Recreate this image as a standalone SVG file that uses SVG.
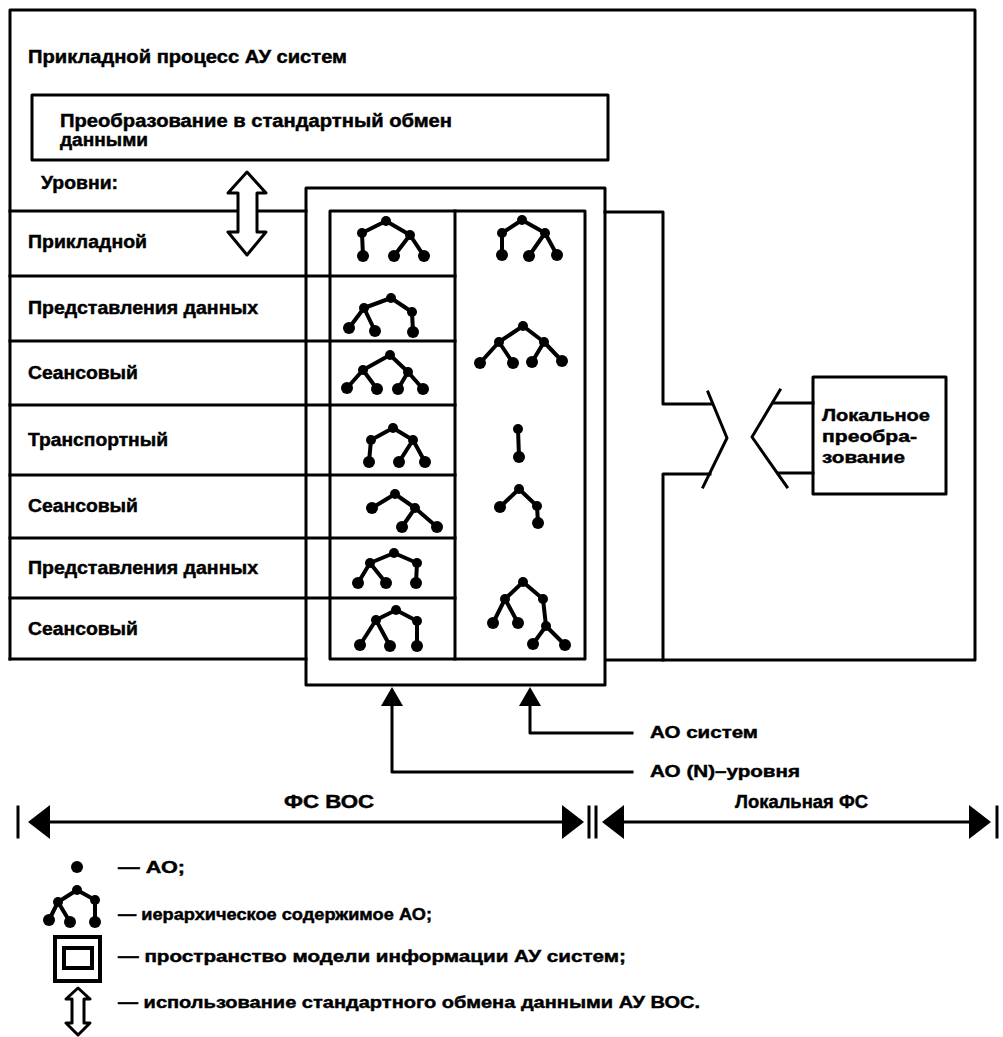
<svg xmlns="http://www.w3.org/2000/svg" width="1003" height="1037" viewBox="0 0 1003 1037">
<style>
.ln{fill:none;stroke:#000;stroke-width:3;stroke-linejoin:round;stroke-linecap:square}
.t{font-family:"Liberation Sans",Arial,sans-serif;font-weight:bold;font-size:18px;fill:#000;stroke:#000;stroke-width:0.45}
.s{font-size:17px}
.tr path{fill:none;stroke:#000;stroke-width:4;stroke-linecap:round;stroke-linejoin:round}
.tr circle{fill:#000}
.ar{fill:#000;stroke:none}
</style>
<rect width="1003" height="1037" fill="#fff"/>

<g id="frame">
  <path class="ln" d="M10,659 V10 H975 V660 H606"/>
  <path class="ln" d="M10,659 H306"/>
  <text class="t" x="28" y="63" textLength="319" lengthAdjust="spacingAndGlyphs">Прикладной процесс АУ систем</text>
</g>

<g id="transform-box">
  <rect class="ln" x="32" y="95" width="576" height="65"/>
  <text class="t" x="60" y="127" textLength="392" lengthAdjust="spacingAndGlyphs">Преобразование в стандартный обмен</text>
  <text class="t" x="60" y="146" textLength="88" lengthAdjust="spacingAndGlyphs">данными</text>
</g>

<g id="levels">
  <text class="t" x="41" y="189" textLength="77" lengthAdjust="spacingAndGlyphs">Уровни:</text>
  <path class="ln" d="M10,211 H306 M10,276 H455 M10,341 H455 M10,405 H455 M10,475 H455 M10,538 H455 M10,598 H455"/>
  <text class="t" x="28" y="248" textLength="119" lengthAdjust="spacingAndGlyphs">Прикладной</text>
  <text class="t" x="28" y="314" textLength="230" lengthAdjust="spacingAndGlyphs">Представления данных</text>
  <text class="t" x="28" y="379" textLength="110" lengthAdjust="spacingAndGlyphs">Сеансовый</text>
  <text class="t" x="28" y="446" textLength="140" lengthAdjust="spacingAndGlyphs">Транспортный</text>
  <text class="t" x="28" y="512" textLength="110" lengthAdjust="spacingAndGlyphs">Сеансовый</text>
  <text class="t" x="28" y="574" textLength="230" lengthAdjust="spacingAndGlyphs">Представления данных</text>
  <text class="t" x="28" y="635" textLength="110" lengthAdjust="spacingAndGlyphs">Сеансовый</text>
</g>

<g id="model-space">
  <rect class="ln" x="306" y="188" width="299" height="497"/>
  <rect class="ln" x="330" y="211" width="255" height="448"/>
  <path class="ln" d="M455,211 V659"/>
</g>

<g id="trees" class="tr">
  <g id="tree-1">
    <path d="M362,233 L386,221 L410,235 M362,233 L363,256 M410,235 L394,256 M410,235 L424,256"/>
    <circle cx="386" cy="221" r="5"/><circle cx="362" cy="233" r="5"/><circle cx="410" cy="235" r="5"/>
    <circle cx="363" cy="256" r="6"/><circle cx="394" cy="256" r="6"/><circle cx="424" cy="256" r="6"/>
  </g>
  <g id="tree-1r">
    <path d="M502,233 L522,220 L545,233 M502,233 L502,255 M545,233 L529,256 M545,233 L557,255"/>
    <circle cx="522" cy="220" r="5"/><circle cx="502" cy="233" r="5"/><circle cx="545" cy="233" r="5"/>
    <circle cx="502" cy="255" r="6"/><circle cx="529" cy="256" r="6"/><circle cx="557" cy="255" r="6"/>
  </g>
  <g id="tree-2">
    <path d="M364,308 L391,298 L412,312 L413,332 M364,308 L349,328 M364,308 L375,331"/>
    <circle cx="391" cy="298" r="5"/><circle cx="364" cy="308" r="5"/><circle cx="412" cy="312" r="5"/>
    <circle cx="349" cy="328" r="6"/><circle cx="375" cy="331" r="6"/><circle cx="413" cy="332" r="6"/>
  </g>
  <g id="tree-3">
    <path d="M363,370 L390,355 L408,372 M363,370 L347,388 M363,370 L377,389 M408,372 L398,389 M408,372 L423,389"/>
    <circle cx="390" cy="355" r="5"/><circle cx="363" cy="370" r="5"/><circle cx="408" cy="372" r="5"/>
    <circle cx="347" cy="388" r="6"/><circle cx="377" cy="389" r="6"/><circle cx="398" cy="389" r="6"/><circle cx="423" cy="389" r="6"/>
  </g>
  <g id="tree-23r">
    <path d="M499,342 L523,326 L544,342 M499,342 L480,363 M499,342 L513,363 M544,342 L532,362 M544,342 L562,361"/>
    <circle cx="523" cy="326" r="5"/><circle cx="499" cy="342" r="5"/><circle cx="544" cy="342" r="5"/>
    <circle cx="480" cy="363" r="6"/><circle cx="513" cy="363" r="6"/><circle cx="532" cy="362" r="6"/><circle cx="562" cy="361" r="6"/>
  </g>
  <g id="tree-4">
    <path d="M371,440 L393,428 L413,440 M371,440 L369,462 M413,440 L399,462 M413,440 L425,462"/>
    <circle cx="393" cy="428" r="5"/><circle cx="371" cy="440" r="5"/><circle cx="413" cy="440" r="5"/>
    <circle cx="369" cy="462" r="6"/><circle cx="399" cy="462" r="6"/><circle cx="425" cy="462" r="6"/>
  </g>
  <g id="tree-4r">
    <path d="M518,429 L519,457"/>
    <circle cx="518" cy="429" r="5"/><circle cx="519" cy="457" r="6"/>
  </g>
  <g id="tree-5">
    <path d="M372,508 L395,494 L415,508 M415,508 L402,527 M415,508 L437,527"/>
    <circle cx="395" cy="494" r="5"/><circle cx="415" cy="508" r="5"/>
    <circle cx="372" cy="508" r="6"/><circle cx="402" cy="527" r="6"/><circle cx="437" cy="527" r="6"/>
  </g>
  <g id="tree-5r">
    <path d="M500,507 L519,489 L537,506 L538,523"/>
    <circle cx="519" cy="489" r="5"/><circle cx="537" cy="506" r="5"/>
    <circle cx="500" cy="507" r="6"/><circle cx="538" cy="523" r="6"/>
  </g>
  <g id="tree-6">
    <path d="M370,563 L394,553 L417,563 L416,583 M370,563 L358,583 M370,563 L386,583"/>
    <circle cx="394" cy="553" r="5"/><circle cx="370" cy="563" r="5"/><circle cx="417" cy="563" r="5"/>
    <circle cx="358" cy="583" r="6"/><circle cx="386" cy="583" r="6"/><circle cx="416" cy="583" r="6"/>
  </g>
  <g id="tree-7">
    <path d="M376,620 L396,610 L417,621 L417,646 M376,620 L360,645 M376,620 L390,646"/>
    <circle cx="396" cy="610" r="5"/><circle cx="376" cy="620" r="5"/><circle cx="417" cy="621" r="5"/>
    <circle cx="360" cy="645" r="6"/><circle cx="390" cy="646" r="6"/><circle cx="417" cy="646" r="6"/>
  </g>
  <g id="tree-67r">
    <path d="M505,599 L523,582 L543,599 L546,626 M505,599 L493,623 M505,599 L518,623 M546,626 L533,644 M546,626 L565,645"/>
    <circle cx="523" cy="582" r="5"/><circle cx="505" cy="599" r="5"/><circle cx="543" cy="599" r="5"/><circle cx="546" cy="626" r="5"/>
    <circle cx="493" cy="623" r="6"/><circle cx="518" cy="623" r="6"/><circle cx="533" cy="644" r="6"/><circle cx="565" cy="645" r="6"/>
  </g>
</g>

<g id="local-transform">
  <rect class="ln" x="813" y="377" width="133" height="117"/>
  <text class="t s" x="822" y="421" textLength="108" lengthAdjust="spacingAndGlyphs">Локальное</text>
  <text class="t s" x="822" y="442" textLength="95" lengthAdjust="spacingAndGlyphs">преобра-</text>
  <text class="t s" x="822" y="463" textLength="83" lengthAdjust="spacingAndGlyphs">зование</text>
</g>

<g id="connectors">
  <path class="ln" d="M605,212 H663 V404 H712"/>
  <path class="ln" d="M663,660 V474 H710"/>
  <polyline class="ln" points="708,392 727,438 703,487"/>
  <polyline class="ln" points="780,390 752,437 787,487"/>
  <path class="ln" d="M773,403 H813 M778,473 H813"/>
  <polygon class="ln" style="fill:#fff" points="247,172 266,193 257,193 257,232 266,232 247,255 228,232 238,232 238,193 228,193"/>
  <polygon class="ar" points="392,687 403,706 381,706"/>
  <path class="ln" d="M392,704 V772 H632"/>
  <polygon class="ar" points="530,687 541,706 519,706"/>
  <path class="ln" d="M530,704 V733 H632"/>
  <text class="t s" x="650" y="738" textLength="108" lengthAdjust="spacingAndGlyphs">АО систем</text>
  <text class="t s" x="650" y="777" textLength="150" lengthAdjust="spacingAndGlyphs">АО (N)–уровня</text>
</g>

<g id="scale">
  <path class="ln" d="M18,807 V837 M589,807 V837 M596,807 V837 M997,807 V837"/>
  <path class="ln" d="M45,822 H568 M618,822 H975"/>
  <polygon class="ar" points="28,822 50,805 50,839"/>
  <polygon class="ar" points="584,822 562,805 562,839"/>
  <polygon class="ar" points="602,822 624,805 624,839"/>
  <polygon class="ar" points="991,822 969,805 969,839"/>
  <text class="t" x="284" y="808" textLength="90" lengthAdjust="spacingAndGlyphs">ФС ВОС</text>
  <text class="t" x="735" y="808" textLength="133" lengthAdjust="spacingAndGlyphs">Локальная ФС</text>
</g>

<g id="legend">
  <circle cx="77" cy="867" r="6"/>
  <text class="t s" x="118" y="873" textLength="67" lengthAdjust="spacingAndGlyphs">— АО;</text>
  <g class="tr">
    <path d="M58,902 L77,890 L95,900 L95,922 M58,902 L49,920 M58,902 L70,922"/>
    <circle cx="77" cy="890" r="5"/><circle cx="58" cy="902" r="5"/><circle cx="95" cy="900" r="5"/>
    <circle cx="49" cy="920" r="6"/><circle cx="70" cy="922" r="6"/><circle cx="95" cy="922" r="6"/>
  </g>
  <text class="t s" x="118" y="920" textLength="314" lengthAdjust="spacingAndGlyphs">— иерархическое содержимое АО;</text>
  <rect x="55" y="937" width="45" height="44" fill="none" stroke="#000" stroke-width="4"/>
  <rect x="64" y="948" width="28" height="20" fill="none" stroke="#000" stroke-width="4"/>
  <text class="t s" x="118" y="962" textLength="508" lengthAdjust="spacingAndGlyphs">— пространство модели информации АУ систем;</text>
  <polygon class="ln" style="fill:#fff" points="78,988 90,999 84,999 84,1023 90,1023 78,1035 66,1023 72,1023 72,999 66,999"/>
  <text class="t s" x="118" y="1008" textLength="582" lengthAdjust="spacingAndGlyphs">— использование стандартного обмена данными АУ ВОС.</text>
</g>
</svg>
